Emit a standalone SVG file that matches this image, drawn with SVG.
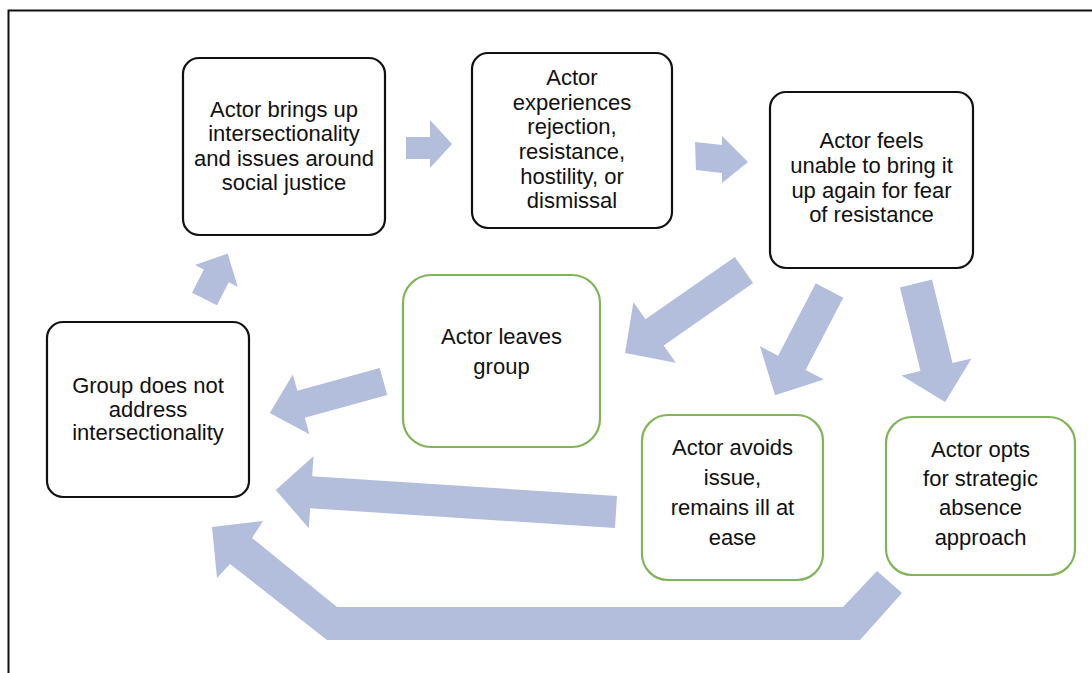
<svg xmlns="http://www.w3.org/2000/svg" width="1092" height="673" viewBox="0 0 1092 673">
<style>
.box{fill:#fff;stroke:#111;stroke-width:2.2}
.gbox{fill:#fff;stroke:#80B45A;stroke-width:2.2}
.t{font-family:"Liberation Sans",Arial,sans-serif;font-size:22px;fill:#111;text-anchor:middle}
.arr{fill:#B3BEDC}
</style>
<rect width="1092" height="673" fill="#fff"/>
<path d="M8.5,673 V10.5 H1092" fill="none" stroke="#111" stroke-width="2"/>
<g id="connectors">
<polygon class="arr" points="406,137 430,137 430,120 452,144 430,168 430,159 406,159"/>
<polygon class="arr" points="695,142 722,145 722,136 748,162 722,183 722,173 696,170"/>
<polygon class="arr" transform="translate(204.5,299) rotate(-63)" points="0,-14 26,-14 26,-24 51,0 26,24 26,14 0,14"/>
<polygon class="arr" transform="translate(744,270) rotate(145.1)" points="0,-16 109,-16 109,-37 145,0 109,37 109,16 0,16"/>
<polygon class="arr" transform="translate(829.5,290.5) rotate(117.5)" points="0,-15.5 81.5,-15.5 81.5,-36 118,0 81.5,36 81.5,15.5 0,15.5"/>
<polygon class="arr" transform="translate(916,283.5) rotate(76.2)" points="0,-16.5 86,-16.5 86,-36 122,0 86,36 86,16.5 0,16.5"/>
<polygon class="arr" transform="translate(383.5,381.5) rotate(164.5)" points="0,-14 85.5,-14 85.5,-31 118,0 85.5,31 85.5,14 0,14"/>
<polygon class="arr" transform="translate(616,512) rotate(183.7)" points="0,-16 305.5,-16 305.5,-36 341,0 305.5,36 305.5,16 0,16"/>
<polygon class="arr" points="877,571 843,607 337,607 252,538 263,521 212,527 217,578 230,564 327,640 860,640 902,593"/>
</g>
<g id="n1">
<rect class="box" x="183" y="58" width="202" height="177" rx="16"/>
<text class="t" x="284" y="117">Actor brings up</text>
<text class="t" x="284" y="141">intersectionality</text>
<text class="t" x="284" y="166">and issues around</text>
<text class="t" x="284" y="190">social justice</text>
</g>
<g id="n2">
<rect class="box" x="472" y="53" width="200" height="175" rx="16"/>
<text class="t" x="572" y="85">Actor</text>
<text class="t" x="572" y="110">experiences</text>
<text class="t" x="572" y="134">rejection,</text>
<text class="t" x="572" y="159">resistance,</text>
<text class="t" x="572" y="184">hostility, or</text>
<text class="t" x="572" y="208">dismissal</text>
</g>
<g id="n3">
<rect class="box" x="770" y="92" width="203" height="176" rx="16"/>
<text class="t" x="871.5" y="148">Actor feels</text>
<text class="t" x="871.5" y="173">unable to bring it</text>
<text class="t" x="871.5" y="198">up again for fear</text>
<text class="t" x="871.5" y="222">of resistance</text>
</g>
<g id="n4">
<rect class="gbox" x="403" y="275" width="197" height="172" rx="28"/>
<text class="t" x="501.5" y="344">Actor leaves</text>
<text class="t" x="501.5" y="374">group</text>
</g>
<g id="n5">
<rect class="box" x="47" y="322" width="202" height="175" rx="16"/>
<text class="t" x="148" y="393">Group does not</text>
<text class="t" x="148" y="417">address</text>
<text class="t" x="148" y="440">intersectionality</text>
</g>
<g id="n6">
<rect class="gbox" x="642" y="415" width="181" height="165" rx="26"/>
<text class="t" x="732.5" y="455">Actor avoids</text>
<text class="t" x="732.5" y="485">issue,</text>
<text class="t" x="732.5" y="515">remains ill at</text>
<text class="t" x="732.5" y="545">ease</text>
</g>
<g id="n7">
<rect class="gbox" x="886" y="417" width="189" height="158" rx="26"/>
<text class="t" x="980.5" y="457">Actor opts</text>
<text class="t" x="980.5" y="486">for strategic</text>
<text class="t" x="980.5" y="515">absence</text>
<text class="t" x="980.5" y="545">approach</text>
</g>
</svg>
